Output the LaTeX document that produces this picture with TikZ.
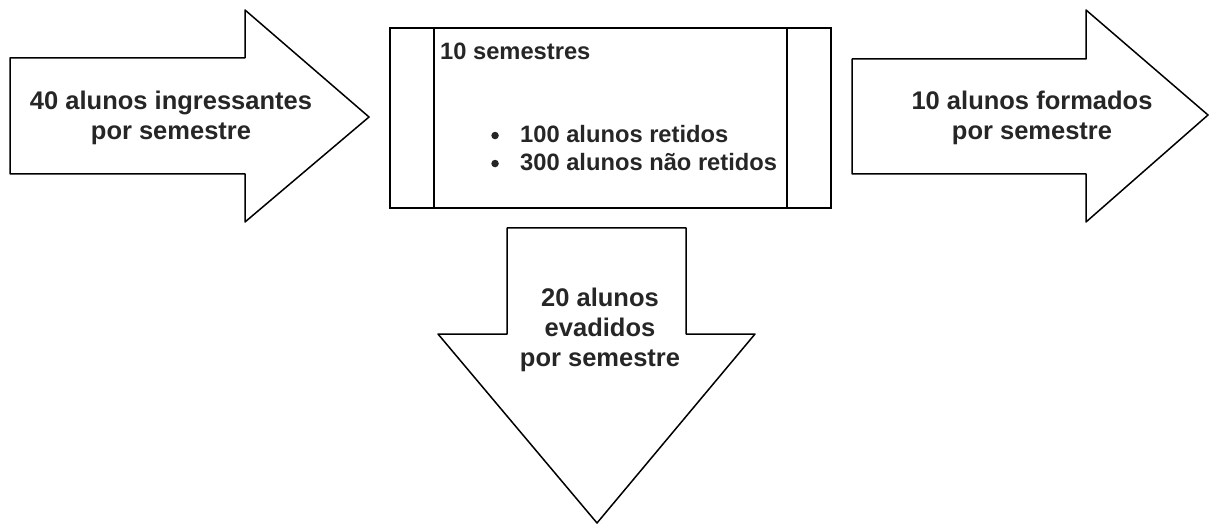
\documentclass[tikz,border=0pt]{standalone}
\usepackage{fontspec}
\setmainfont{Liberation Sans}
\usetikzlibrary{positioning}
\definecolor{inktext}{HTML}{262626}
\tikzstyle{blockarrow} = [draw, line width=1.5pt, line join=round, fill=white]
\tikzstyle{flowbox} = [draw, line width=1.5pt, fill=white]
\tikzstyle{arrowtext} = [align=center, inner sep=0pt, text=inktext, font=\fontsize{25.5}{30}\selectfont\bfseries]
\tikzstyle{boxtext} = [anchor=base west, inner sep=0pt, text=inktext, font=\fontsize{23.7}{29}\selectfont\bfseries]
\tikzstyle{dot} = [circle, fill=inktext, inner sep=0pt, minimum size=7.5pt]

\begin{document}
\begin{tikzpicture}[x=1pt, y=-1pt]
			\useasboundingbox (0,0) rectangle (1209,526);
			% Draw shapes
			\draw [blockarrow] (10,58) -- (245,58) -- (245,10) -- (369,117) -- (245,222) -- (245,174) -- (10,174) -- cycle;
			\draw [blockarrow] (852,59) -- (1086,59) -- (1086,10) -- (1208,115) -- (1086,222) -- (1086,174) -- (852,174) -- cycle;
			\draw [blockarrow] (507,228) -- (686,228) -- (686,334) -- (755,334) -- (597,523) -- (438,334) -- (507,334) -- cycle;
			\draw [flowbox] (390,28) rectangle (831,208);
			\draw [line width=1.5pt] (434,28) -- (434,208);
			\draw [line width=1.5pt] (787,28) -- (787,208);
			% Place nodes
			\node [arrowtext] (ingressantes) at (171,118) {40 alunos ingressantes\\por semestre};
			\node [arrowtext] (formados) at (1032,118) {10 alunos formados\\por semestre};
			\node [arrowtext] (evadidos) at (600,330) {20 alunos\\evadidos\\por semestre};
			\node [boxtext] (semestres) at (440,60) {10 semestres};
			\node [boxtext] (retidos) at (520,143) {100 alunos retidos};
			\node [boxtext] (naoretidos) at (520,171) {300 alunos não retidos};
			\node [dot, left=21pt of retidos.west, yshift=-1pt] (dotA) {};
			\node [dot, left=21pt of naoretidos.west, yshift=-1pt] (dotB) {};
		\end{tikzpicture}
\end{document}
